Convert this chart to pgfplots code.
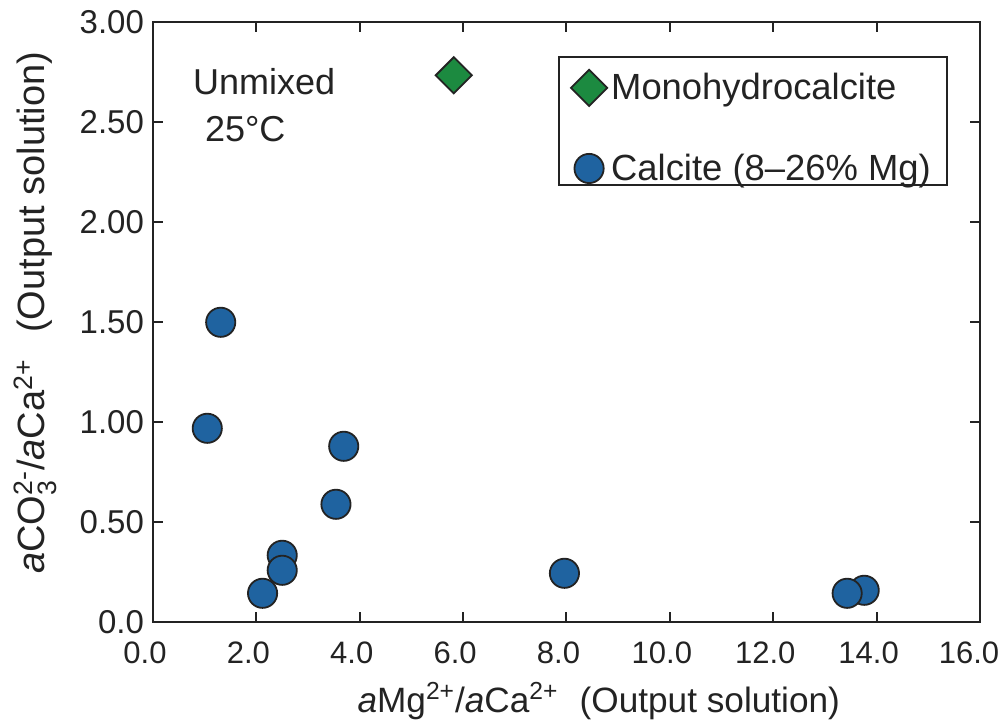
\documentclass[border=0pt]{standalone}
\usepackage{fontspec}
\setmainfont{Liberation Sans}
\usepackage{amsmath}
\usepackage{pgfplots}
\pgfplotsset{compat=1.18}

\definecolor{calciteblue}{RGB}{31,99,160}
\definecolor{mhcgreen}{RGB}{28,138,64}
\definecolor{inkgray}{RGB}{35,35,35}

% legend images: a bare mark; the first one keeps extra room above it
\pgfplotsset{
  markimage/.style={legend image code/.code={\draw[##1] plot coordinates {(0pt,0pt)};}},
  tallmarkimage/.style={legend image code/.code={\path (0pt,15pt); \draw[##1] plot coordinates {(0pt,0pt)};}},
}

% Monohydrocalcite: one sample
\pgfplotstableread{
x     y
5.82  2.735
}\monohydro

% Mg-calcite samples (drawn in this order so overlaps stack as shown)
\pgfplotstableread{
x     y
1.31  1.500
1.05  0.970
3.69  0.880
3.54  0.590
2.50  0.335
2.50  0.260
2.12  0.145
7.96  0.245
13.76 0.160
13.43 0.145
}\calcite

\begin{document}
\begin{tikzpicture}
\path[use as bounding box] (-76.5pt,-51.85pt) rectangle (425pt,311.15pt);
\begin{axis}[
  scale only axis,
  width=413.5pt, height=300pt,
  xmin=0, xmax=16, ymin=0, ymax=3,
  axis line style={inkgray, line width=1pt},
  tick style={inkgray, line width=1pt},
  tick align=inside,
  major tick length=5pt,
  xtick={0,2,4,6,8,10,12,14,16},
  xticklabels={0.0,2.0,4.0,6.0,8.0,10.0,12.0,14.0,\hspace*{-3pt}16.0},
  ytick={0,0.5,1,1.5,2,2.5,3},
  yticklabels={0.0,0.50,1.00,1.50,2.00,2.50,3.00},
  xticklabel style={font=\fontsize{15.5}{18}\selectfont, text=inkgray,
    yshift=-6pt, xshift=-4pt},
  yticklabel style={font=\fontsize{16.5}{19}\selectfont, text=inkgray, xshift=-1pt},
  xlabel={\textit{a}Mg$^{\text{2+}}$/\textit{a}Ca$^{\text{2+}}$\hspace{0.6em}(Output solution)},
  xlabel style={at={(rel axis cs:0.539,0)}, anchor=base, yshift=-45pt,
    font=\fontsize{17.6}{20}\selectfont, text=inkgray},
  ylabel={\textit{a}CO$_{\text{3}}^{\text{2-}}$/\textit{a}Ca$^{\text{2+}}$\hspace{0.7em}(Output solution)},
  ylabel style={at={([xshift=-54pt]rel axis cs:0,0.516)}, anchor=base, rotate=0,
    font=\fontsize{19}{22}\selectfont, text=inkgray},
  legend style={
    at={(rel axis cs:0.4897,0.944)}, anchor=north west,
    draw=inkgray, line width=1pt,
    font=\fontsize{18.2}{20}\selectfont, text=inkgray,
    inner xsep=6pt, inner ysep=0pt,
    nodes={inner ysep=1pt},
    row sep=22.9pt,
    legend cell align=left,
  },
]
\addplot[only marks, mark=square*, mark size=6.4pt,
  mark options={rotate=45, fill=mhcgreen, draw=inkgray, line width=0.9pt},
  tallmarkimage]
  table[x=x, y=y] {\monohydro};
\addlegendentry{Monohydrocalcite}

\addplot[only marks, mark=*, mark size=7.3pt,
  mark options={fill=calciteblue, draw=inkgray, line width=0.9pt},
  markimage]
  table[x=x, y=y] {\calcite};
\addlegendentry{\raisebox{0pt}[\height][0pt]{Calcite (8--26\% Mg)}}

\node[anchor=base west, font=\fontsize{18}{20}\selectfont, text=inkgray]
  at (rel axis cs:0.040,0.879) {Unmixed};
\node[anchor=base west, font=\fontsize{18}{20}\selectfont, text=inkgray]
  at (rel axis cs:0.0544,0.801) {25°C};
\end{axis}
\end{tikzpicture}
\end{document}
